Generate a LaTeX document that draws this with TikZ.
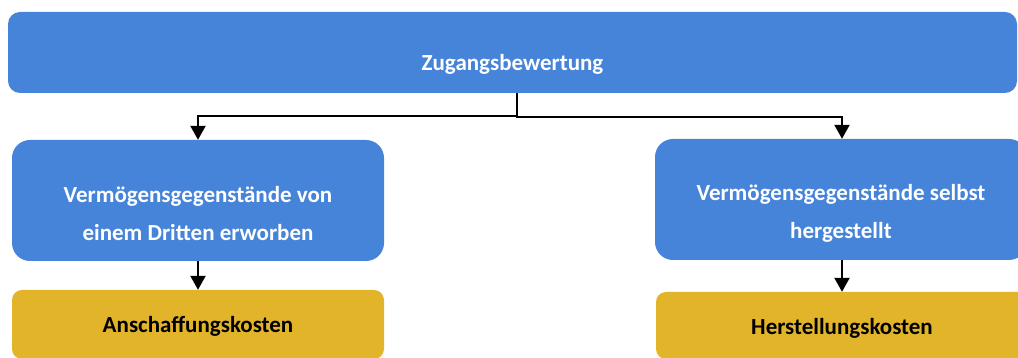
\documentclass[tikz,border=0pt]{standalone}
\usepackage{fontspec}
\setmainfont{Carlito}
\usepackage{xcolor}
\usepackage{tikz}
\usetikzlibrary{positioning,arrows.meta}
\definecolor{blu}{HTML}{4684D9}
\definecolor{gld}{HTML}{E2B42A}

\begin{document}
\begin{tikzpicture}[x=1pt,y=1pt,
    box/.style={fill=blu,text=white,rounded corners=18pt,inner ysep=0pt,align=center,
      font=\fontsize{23}{37.7}\selectfont\bfseries},
    cost/.style={fill=gld,text=black,rounded corners=10pt,inner ysep=0pt,
      font=\fontsize{23}{27}\selectfont\bfseries,minimum width=372pt},
    link/.style={line width=2.2pt,-{Triangle[width=15pt,length=14pt]}}]
  \useasboundingbox (0,0) rectangle (1018,358);
  \clip (0,0) rectangle (1018,358);
  % top level
  \node[box,rounded corners=12pt,minimum width=1009pt,minimum height=81pt,
        text height=37pt,text depth=0pt] (zug) at (512.5,305.5) {Zugangsbewertung};
  % second level
  \node[box,minimum width=372pt,minimum height=121pt,text height=85pt,text depth=5.6pt]
        (dritt) at (198,157.5) {Vermögensgegenstände von\\einem Dritten erworben};
  \node[box,minimum width=372pt,minimum height=121pt,text height=83pt,text depth=5.6pt]
        (selbst) at (841,158.5) {Vermögensgegenstände selbst\\hergestellt};
  % cost nodes
  \node[cost,minimum height=69pt,text height=16pt,text depth=0pt] (ak) at (198,33.5) {Anschaffungskosten};
  \node[cost,minimum height=67pt,text height=19pt,text depth=0pt] (hk) at (842,32.5) {Herstellungskosten};
  \coordinate (split) at ([xshift=4.5pt]zug.south);
  \draw[link] (split) |- ++(0,-22.5) -| (dritt.north);
  \draw[link] (split) |- ++(0,-23.5) -| ([xshift=1pt]selbst.north);
  \draw[link] (dritt) -- (ak);
  \draw[link] ([xshift=1pt]selbst.south) -- (hk.north);
\end{tikzpicture}
\end{document}
